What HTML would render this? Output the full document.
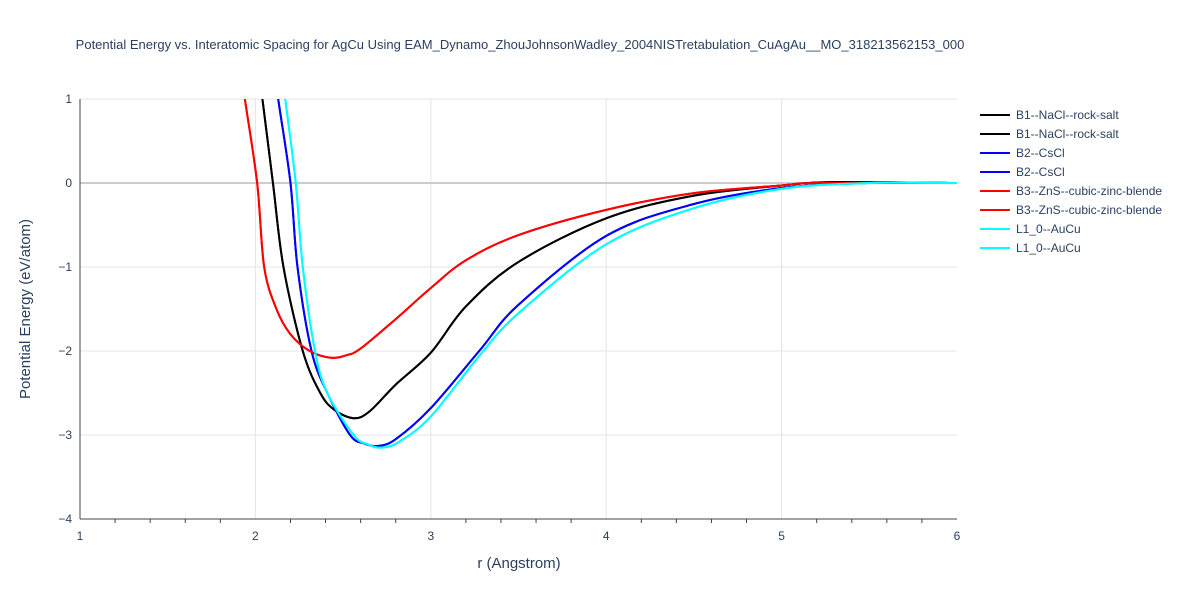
<!DOCTYPE html>
<html><head><meta charset="utf-8"><style>
body{margin:0;background:#fff;font-family:"Liberation Sans",Arial,sans-serif}
text{font-family:"Liberation Sans",Arial,sans-serif;fill:#2a3f5f}
</style></head><body>
<svg id="chart" width="1200" height="600">
<text x="520" y="49" text-anchor="middle" font-size="13">Potential Energy vs. Interatomic Spacing for AgCu Using EAM_Dynamo_ZhouJohnsonWadley_2004NISTretabulation_CuAgAu__MO_318213562153_000</text>
<g id="grid"></g><g id="axes"></g>
<clipPath id="clip"><rect x="80" y="99" width="877" height="420"/></clipPath>
<g id="series" clip-path="url(#clip)"></g>
<g id="legend"></g>
<text x="519" y="568" text-anchor="middle" font-size="15">r (Angstrom)</text>
<text transform="translate(30,309) rotate(-90)" text-anchor="middle" font-size="15">Potential Energy (eV/atom)</text>
</svg>
<script>
const xTicks=[1,2,3,4,5,6];
const yTicks=[1,0,-1,-2,-3,-4];
const seriesNames=["B1--NaCl--rock-salt","B2--CsCl","B3--ZnS--cubic-zinc-blende","L1_0--AuCu"];
const seriesColors=["#000000","#0000ff","#ff0000","#00ffff"];
const b1R=[2.0,2.04,2.10,2.16,2.27,2.37,2.45,2.56,2.65,2.8,3.0,3.2,3.5,4.0,4.5,5.0,5.3,6.0];
const b1E=[1.6,1.0,0.0,-1.0,-2.0,-2.5,-2.7,-2.8,-2.72,-2.4,-2.02,-1.47,-0.94,-0.42,-0.15,-0.03,0.01,0.0];
const b2R=[2.1,2.13,2.20,2.24,2.32,2.41,2.54,2.62,2.70,2.8,3.0,3.28,3.5,4.0,4.5,5.0,5.5,6.0];
const b2E=[1.5,1.0,0.0,-1.0,-2.0,-2.5,-3.0,-3.1,-3.13,-3.05,-2.68,-1.99,-1.45,-0.63,-0.25,-0.06,0.0,0.0];
const b3R=[1.9,1.94,2.01,2.05,2.12,2.2,2.31,2.43,2.52,2.6,2.8,3.0,3.2,3.5,4.0,4.5,5.0,5.2,6.0];
const b3E=[1.6,1.0,0.0,-1.0,-1.5,-1.8,-2.0,-2.08,-2.05,-1.97,-1.62,-1.25,-0.92,-0.62,-0.32,-0.12,-0.03,0.0,0.0];
const l10R=[2.14,2.17,2.23,2.27,2.34,2.41,2.56,2.64,2.72,2.82,3.0,3.28,3.5,4.0,4.5,5.0,5.5,6.0];
const l10E=[1.5,1.0,0.0,-1.0,-2.0,-2.5,-3.0,-3.11,-3.15,-3.08,-2.78,-2.05,-1.55,-0.73,-0.3,-0.07,0.0,0.0];
const seriesR=[b1R,b2R,b3R,l10R], seriesE=[b1E,b2E,b3E,l10E];
const NS="http://www.w3.org/2000/svg";
const X=r=>80+(r-1)*175.4, Y=e=>183-e*84;
function mk(t,a,p){const e=document.createElementNS(NS,t);for(const k in a)e.setAttribute(k,a[k]);p.appendChild(e);return e;}
const grid=document.getElementById('grid'),axes=document.getElementById('axes');
xTicks.forEach(v=>{
 if(v>1&&v<6){const l=mk('line',{x1:X(v),x2:X(v),y1:99,y2:519,stroke:'#e5e5e5'},grid);
 
 }
 const t=mk('text',{x:X(v),y:540,'text-anchor':'middle','font-size':12},axes);t.textContent=v;
 
 
});
yTicks.forEach(v=>{
 const l=mk('line',{x1:80,x2:957,y1:Y(v),y2:Y(v),stroke:v===0?'#cccccc':'#e5e5e5','stroke-width':v===0?2:1},grid);
 
 
 const t=mk('text',{x:72,y:Y(v)+4,'text-anchor':'end','font-size':12},axes);t.textContent=v===0?'0':(v<0?'\u2212'+(-v):v);
 
 
});
const ax=mk('line',{x1:80,x2:957,y1:519,y2:519,stroke:'#444'},axes);


const ay=mk('line',{x1:80,x2:80,y1:99,y2:519,stroke:'#444'},axes);


for(let v=1.2;v<6;v+=0.2){if(Math.abs(v-Math.round(v))<0.01)continue;mk('line',{x1:X(v),x2:X(v),y1:519,y2:523,stroke:'#444'},axes);}
function pathD(rs,es){const p=rs.map((r,i)=>[X(r),Y(es[i])]);let d='M'+p[0][0]+','+p[0][1];
 for(let i=0;i<p.length-1;i++){const p0=p[Math.max(0,i-1)],p1=p[i],p2=p[i+1],p3=p[Math.min(p.length-1,i+2)];
 const c1=[p1[0]+(p2[0]-p0[0])/6,p1[1]+(p2[1]-p0[1])/6],c2=[p2[0]-(p3[0]-p1[0])/6,p2[1]-(p3[1]-p1[1])/6];
 d+=' C'+c1+' '+c2+' '+p2;}return d;}
const sg=document.getElementById('series'),lg=document.getElementById('legend');
const order=[0,1,2,3];
order.forEach(i=>{for(let k=0;k<2;k++){
 const p=mk('path',{d:pathD(seriesR[i],seriesE[i]),fill:'none',stroke:seriesColors[i],'stroke-width':2},sg);
 
 
 const y=115+(i*2+k)*19;
 const g=mk('g',{},lg);
 
 
 mk('line',{x1:980,x2:1010,y1:y,y2:y,stroke:seriesColors[i],'stroke-width':2},g);
 const t=mk('text',{x:1016,y:y+4,'font-size':12},g);t.textContent=seriesNames[i];
}});
</script>
</body></html>
